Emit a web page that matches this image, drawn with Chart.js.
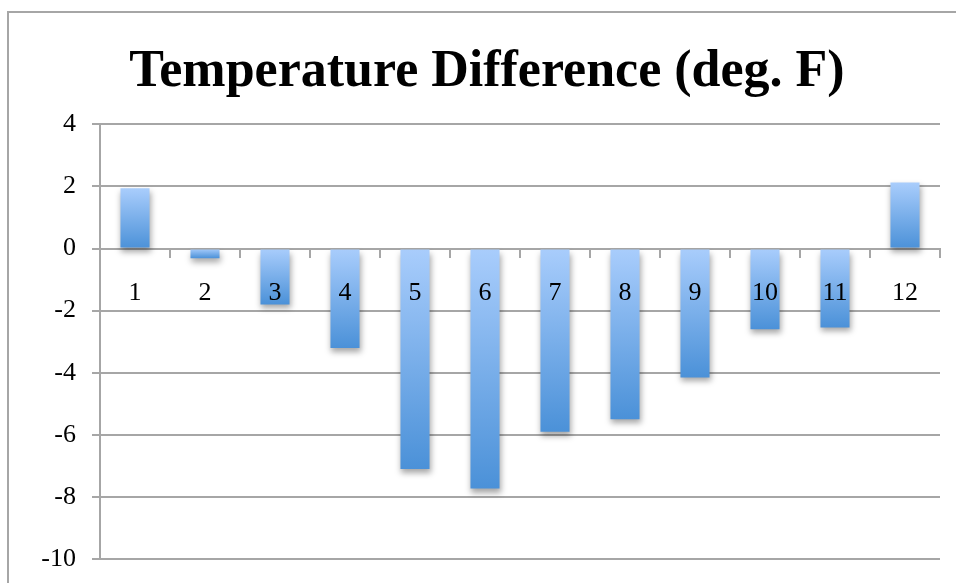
<!DOCTYPE html>
<html>
<head>
<meta charset="utf-8">
<script src="https://cdn.jsdelivr.net/npm/chart.js@4"></script>
<style>
  html, body { margin: 0; padding: 0; background: #fff; overflow: hidden; }
  #wrap { position: relative; width: 956px; height: 583px; }
  #frame {
    position: absolute; left: 7px; top: 11px; right: 0; bottom: 0;
    border-left: 2px solid #a6a6a6; border-top: 2px solid #a6a6a6;
    pointer-events: none;
  }
  canvas { position: absolute; left: 0; top: 0; }
</style>
</head>
<body>
<div id="wrap">
  <canvas id="chart" width="956" height="583"></canvas>
  <div id="frame"></div>
</div>
<script>
// --- chart data ---
const months = ['1', '2', '3', '4', '5', '6', '7', '8', '9', '10', '11', '12'];
const tempDiff = [1.94, -0.31, -1.8, -3.2, -7.1, -7.73, -5.9, -5.5, -4.15, -2.6, -2.54, 2.13];
const yTicks = [-10, -8, -6, -4, -2, 0, 2, 4];

const gridGray = '#a6a6a6';
const serif = '"Liberation Serif", "DejaVu Serif", serif';

// light blue at the zero end, darker at the far end of each bar
function barFill(ctx) {
    const chart = ctx.chart;
    if (!chart.chartArea || ctx.type !== 'data') return '#7fb0ea';
    const y = chart.scales.y;
    const p0 = y.getPixelForValue(0);
    const p1 = y.getPixelForValue(tempDiff[ctx.dataIndex]);
    const g = chart.ctx.createLinearGradient(0, Math.min(p0, p1), 0, Math.max(p0, p1));
    g.addColorStop(0, '#a9cdfc');
    g.addColorStop(1, '#4b91d8');
    return g;
}

// soft drop shadow under the bars
const barShadow = {
    id: 'barShadow',
    beforeDatasetsDraw(chart) {
        const c = chart.ctx;
        c.save();
        c.shadowColor = 'rgba(0, 0, 0, 0.35)';
        c.shadowBlur = 6;
        c.shadowOffsetX = 1;
        c.shadowOffsetY = 4;
    },
    afterDatasetsDraw(chart) {
        chart.ctx.restore();
    }
};

new Chart(document.getElementById('chart'), {
    type: 'bar',
    data: {
        labels: months,
        datasets: [{
            data: tempDiff,
            backgroundColor: barFill,
            borderWidth: 0,
            barPercentage: 0.415,
            categoryPercentage: 1
        }]
    },
    options: {
        responsive: false,
        animation: false,
        layout: { padding: { left: 34, right: 16, top: 0, bottom: 24 } },
        plugins: {
            legend: { display: false },
            tooltip: { enabled: false },
            title: {
                display: true,
                text: 'Temperature Difference (deg. F)',
                color: '#000',
                font: { family: serif, size: 52, weight: 'bold', lineHeight: 1.2 },
                padding: { top: 41, bottom: 21 }
            }
        },
        scales: {
            x: {
                position: { y: 0 },
                afterFit(scale) { scale.height = 0; },
                grid: {
                    drawOnChartArea: false,
                    drawTicks: true,
                    tickLength: 8,
                    color: gridGray,
                    lineWidth: 2
                },
                border: { display: true, color: gridGray, width: 2 },
                ticks: {
                    z: 1, // month labels sit on top of the bars
                    color: '#000',
                    font: { family: serif, size: 26 },
                    padding: 21,
                    maxRotation: 0,
                    autoSkip: false
                }
            },
            y: {
                min: yTicks[0],
                max: yTicks[yTicks.length - 1],
                afterFit(scale) {
                    scale.width = 66;
                    scale.paddingBottom = 0;
                },
                afterBuildTicks(scale) { scale.ticks = yTicks.map(v => ({ value: v })); },
                grid: {
                    color: gridGray,
                    lineWidth: 2,
                    drawTicks: true,
                    tickLength: 8
                },
                border: { display: true, color: gridGray, width: 2 },
                ticks: {
                    color: '#000',
                    font: { family: serif, size: 26 },
                    padding: 16
                }
            }
        }
    },
    plugins: [barShadow]
});
</script>
</body>
</html>
